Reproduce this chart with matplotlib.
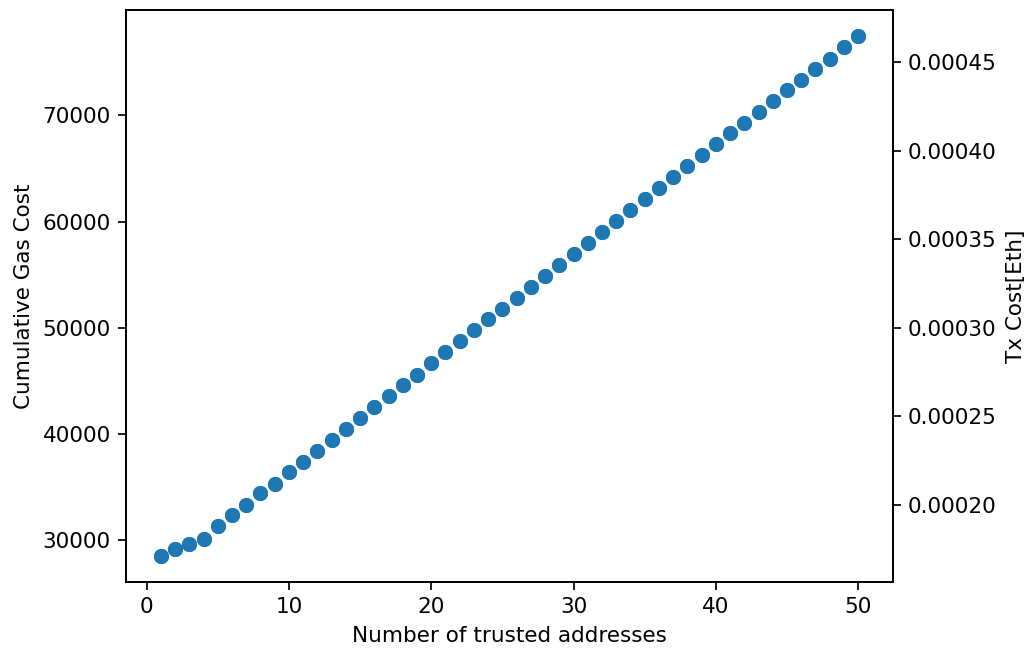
import matplotlib
matplotlib.use("Agg")
import matplotlib.pyplot as plt
import numpy as np

# number of trusted addresses vs cumulative gas
n_addresses = list(range(1, 51))
gas_cost = [
    28520, 29150, 29620, 30160, 31350, 32350, 33360, 34420, 35300, 36400,
    37360, 38380, 39410, 40450, 41480, 42520, 43550, 44590, 45560, 46660,
    47690, 48730, 49770, 50800, 51770, 52780, 53810, 54850, 55880, 56920,
    57960, 58990, 60030, 61060, 62100, 63130, 64170, 65200, 66240, 67270,
    68310, 69280, 70300, 71330, 72380, 73320, 74330, 75340, 76470, 77465,
]
gas_price_eth = 6e-9  # 6 gwei

tx_cost = [g * gas_price_eth for g in gas_cost]

fig, ax = plt.subplots(figsize=(1030 / 155, 648 / 155), dpi=155)
fig.subplots_adjust(left=0.1223, right=0.867, top=0.9846, bottom=0.1019)

ax.scatter(n_addresses, gas_cost)
ax.set_xlabel("Number of trusted addresses")
ax.set_ylabel("Cumulative Gas Cost")

ax2 = ax.twinx()
ax2.scatter(n_addresses, tx_cost)
ax2.set_ylabel("Tx Cost[Eth]")

plt.savefig("out.png", dpi=155)
